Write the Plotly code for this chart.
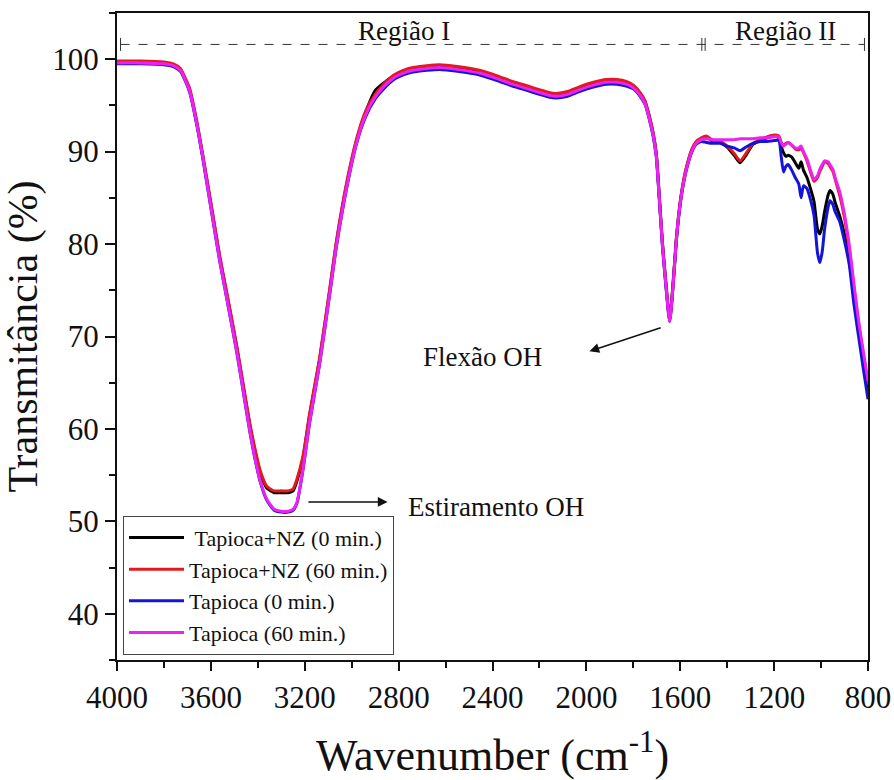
import plotly.graph_objects as go

# Wavenumber grid (cm-1)
wavenumber = [
    4000, 3900, 3800, 3760, 3730, 3710, 3690, 3660, 3634, 3600,
    3562, 3525, 3489, 3460, 3434, 3410, 3390, 3362, 3330, 3300,
    3270, 3250, 3234, 3208, 3179, 3136, 3094, 3064, 3021, 2979,
    2940, 2900, 2860, 2820, 2780, 2740, 2680, 2626, 2550, 2455,
    2380, 2315, 2250, 2200, 2160, 2128, 2080, 2030, 1970, 1915,
    1870, 1830, 1800, 1774, 1750, 1732, 1715, 1702, 1690, 1676,
    1660, 1645, 1630, 1617, 1604, 1590, 1575, 1550, 1532, 1510,
    1489, 1460, 1430, 1400, 1370, 1345, 1320, 1290, 1260, 1230,
    1200, 1180, 1170, 1160, 1150, 1140, 1125, 1110, 1095, 1085,
    1075, 1060, 1045, 1030, 1015, 1005, 995, 985, 970, 962,
    950, 940, 920, 900, 880, 860, 840, 820, 800,
]

tapioca_nz_0 = [
    99.7, 99.7, 99.6, 99.4, 98.9, 97.9, 96.6, 93.1, 89.4, 84.3,
    78.5, 73.6, 68.7, 64.3, 60.4, 57.4, 55.3, 53.6, 53.1, 53.1,
    53.1, 53.3, 54.3, 56.8, 61.5, 67.6, 74.9, 80.3, 86.5, 91.2,
    94.3, 96.6, 97.5, 98.2, 98.7, 99.0, 99.2, 99.3, 99.1, 98.7,
    98.1, 97.5, 97.0, 96.6, 96.3, 96.2, 96.4, 96.9, 97.4, 97.7,
    97.7, 97.5, 97.1, 96.4, 95.4, 93.8, 91.9, 89.7, 85.4, 80.1,
    75.4, 71.8, 75.9, 80.4, 83.7, 86.2, 88.1, 90.2, 91.0, 91.4,
    91.6, 91.1, 91.0, 90.5, 89.6, 88.8, 89.6, 90.8, 91.2, 91.5,
    91.7, 91.5, 90.6, 89.9, 89.5, 89.6, 89.4, 88.8, 88.2, 88.9,
    88.0, 87.2, 86.0, 84.6, 81.6, 81.1, 82.0, 83.5, 85.3, 85.8,
    85.4, 84.5, 83.0, 81.0, 78.2, 74.5, 70.8, 67.2, 64.0,
]

tapioca_nz_60 = [
    99.8, 99.8, 99.7, 99.5, 99.0, 98.0, 96.8, 93.3, 89.6, 84.5,
    78.7, 73.8, 68.9, 64.5, 60.6, 57.6, 55.5, 53.8, 53.3, 53.3,
    53.3, 53.5, 54.5, 57.0, 61.7, 67.8, 75.1, 80.5, 86.7, 91.4,
    94.4, 96.2, 97.4, 98.3, 98.8, 99.1, 99.3, 99.4, 99.2, 98.8,
    98.2, 97.6, 97.1, 96.7, 96.4, 96.3, 96.5, 97.0, 97.5, 97.8,
    97.8, 97.6, 97.2, 96.5, 95.5, 93.9, 92.0, 89.8, 85.5, 80.2,
    75.5, 71.9, 76.0, 80.5, 83.8, 86.3, 88.2, 90.3, 91.1, 91.5,
    91.7, 91.2, 91.1, 90.6, 89.8, 89.0, 89.8, 90.9, 91.3, 91.6,
    91.8, 91.7, 91.0, 90.7, 90.9, 91.0, 90.7, 90.3, 90.2, 90.4,
    89.9, 89.0, 87.8, 86.8, 87.2, 87.9, 88.4, 88.9, 88.7, 88.4,
    87.9, 87.0, 85.2, 82.8, 79.5, 75.3, 71.3, 68.0, 64.8,
]

tapioca_0 = [
    99.5, 99.5, 99.4, 99.2, 98.7, 97.7, 96.4, 92.9, 89.2, 83.9,
    78.1, 73.1, 68.2, 63.7, 59.7, 56.5, 54.3, 52.3, 51.2, 51.0,
    51.0, 51.2, 51.9, 55.5, 60.7, 67.1, 74.5, 79.9, 86.1, 90.9,
    93.8, 95.7, 96.9, 97.8, 98.3, 98.6, 98.8, 98.9, 98.7, 98.3,
    97.7, 97.1, 96.6, 96.2, 95.9, 95.8, 96.0, 96.5, 97.0, 97.3,
    97.3, 97.1, 96.8, 96.1, 95.1, 93.5, 91.6, 89.4, 85.1, 79.8,
    75.1, 71.6, 75.6, 80.2, 83.5, 86.0, 87.9, 90.0, 90.8, 91.1,
    91.0, 90.9, 90.9, 90.6, 90.4, 90.1, 90.5, 90.9, 91.1, 91.1,
    91.2, 91.2, 89.5, 87.8, 88.4, 88.6, 88.0, 87.2, 86.5, 85.0,
    86.3, 86.0, 84.8, 83.1, 79.0, 78.0, 79.2, 81.6, 84.0, 84.7,
    84.3, 83.5, 82.4, 80.3, 77.8, 73.5, 70.0, 66.5, 63.2,
]

tapioca_60 = [
    99.6, 99.6, 99.5, 99.3, 98.8, 97.8, 96.5, 93.0, 89.3, 84.0,
    78.2, 73.2, 68.3, 63.8, 59.8, 56.6, 54.4, 52.4, 51.3, 51.1,
    51.1, 51.3, 52.0, 55.6, 60.8, 67.2, 74.6, 80.0, 86.2, 91.0,
    94.0, 95.9, 97.1, 98.0, 98.5, 98.8, 99.0, 99.1, 98.9, 98.5,
    97.9, 97.3, 96.8, 96.4, 96.1, 96.0, 96.2, 96.7, 97.2, 97.5,
    97.5, 97.3, 96.9, 96.2, 95.2, 93.6, 91.7, 89.5, 85.2, 79.9,
    75.2, 71.6, 75.7, 80.3, 83.6, 86.1, 88.0, 90.1, 90.9, 91.3,
    91.4, 91.3, 91.3, 91.3, 91.3, 91.4, 91.4, 91.4, 91.5, 91.5,
    91.6, 91.6, 91.0, 90.6, 90.8, 91.0, 90.7, 90.4, 90.4, 90.6,
    90.0, 89.2, 88.0, 87.0, 87.4, 88.1, 88.6, 89.0, 88.9, 88.6,
    88.1, 87.2, 85.6, 83.2, 79.9, 75.7, 71.7, 68.4, 65.2,
]

series_names = ["\u00a0Tapioca+NZ (0 min.)", "Tapioca+NZ (60 min.)",
                "Tapioca (0 min.)", "Tapioca (60 min.)"]
series_values = [tapioca_nz_0, tapioca_nz_60, tapioca_0, tapioca_60]
series_colors = ["#000000", "#e31a1c", "#1414d8", "#ee22ee"]

x_ticks = [4000, 3600, 3200, 2800, 2400, 2000, 1600, 1200, 800]
y_ticks = [40, 50, 60, 70, 80, 90, 100]

FONT = "Liberation Serif"

fig = go.Figure()
for name, vals, col in zip(series_names, series_values, series_colors):
    fig.add_trace(go.Scatter(
        x=wavenumber, y=vals, mode="lines", name=name,
        line=dict(color=col, width=3, shape="spline", smoothing=0.6),
        legendgroup=name,
    ))

# Region bracket (dashed line with end bars)
yb = 101.6
fig.add_shape(type="line", x0=3985, x1=815, y0=yb, y1=yb, xref="x", yref="y",
              line=dict(color="#333333", width=1, dash="dash"))
for xv in [3985, 1508, 1494, 815]:
    fig.add_shape(type="line", x0=xv, x1=xv, y0=yb - 0.7, y1=yb + 0.7,
                  xref="x", yref="y", line=dict(color="#333333", width=1))

annots = [
    dict(x=2775, y=103.0, text="Região I"),
    dict(x=1153, y=103.0, text="Região II"),
    dict(x=2443, y=67.8, text="Flexão OH"),
    dict(x=2383, y=51.5, text="Estiramento OH"),
]
for a in annots:
    fig.add_annotation(x=a["x"], y=a["y"], text=a["text"], showarrow=False,
                       xref="x", yref="y",
                       font=dict(family=FONT, size=27, color="#111111"))

# Arrows
fig.add_annotation(x=1987, y=68.4, ax=1677, ay=71.0, xref="x", yref="y",
                   axref="x", ayref="y", text="", showarrow=True,
                   arrowhead=2, arrowsize=1.3, arrowwidth=1.5, arrowcolor="#111111")
fig.add_annotation(x=2847, y=52.1, ax=3191, ay=52.1, xref="x", yref="y",
                   axref="x", ayref="y", text="", showarrow=True,
                   arrowhead=2, arrowsize=1.3, arrowwidth=1.5, arrowcolor="#111111")

fig.update_layout(
    width=894, height=780,
    margin=dict(l=117, r=26, t=13, b=120, autoexpand=False),
    paper_bgcolor="white", plot_bgcolor="white",
    font=dict(family=FONT, color="#111111"),
    showlegend=True,
    legend=dict(
        x=0.008, y=0.008, xanchor="left", yanchor="bottom",
        bgcolor="white", bordercolor="#444444", borderwidth=1,
        font=dict(family=FONT, size=22, color="#111111"),
        traceorder="grouped", tracegroupgap=0, itemwidth=55,
    ),
    xaxis=dict(
        range=[4000, 800], tickmode="array", tickvals=x_ticks,
        ticktext=[str(v) for v in x_ticks], automargin=False,
        ticks="outside", ticklen=9, tickwidth=2, tickcolor="#111111",
        minor=dict(dtick=200, ticks="outside", ticklen=6, tickwidth=2, tickcolor="#111111"),
        showline=True, linewidth=2, linecolor="#111111", mirror=True,
        showgrid=False, zeroline=False,
        tickfont=dict(family=FONT, size=31, color="#111111"),
        title=dict(text="Wavenumber (cm<sup>-1</sup>)", standoff=28,
                   font=dict(family=FONT, size=44, color="#111111")),
    ),
    yaxis=dict(
        range=[35, 105], tickmode="array", tickvals=y_ticks, automargin=False,
        ticks="outside", ticklen=10, tickwidth=2, tickcolor="#111111",
        minor=dict(dtick=5, ticks="outside", ticklen=6, tickwidth=2, tickcolor="#111111"),
        showline=True, linewidth=2, linecolor="#111111", mirror=True,
        showgrid=False, zeroline=False,
        tickfont=dict(family=FONT, size=31, color="#111111"),
        title=dict(text="Transmitância (%)", standoff=6,
                   font=dict(family=FONT, size=42, color="#111111")),
    ),
)

fig.write_html("out.html")
